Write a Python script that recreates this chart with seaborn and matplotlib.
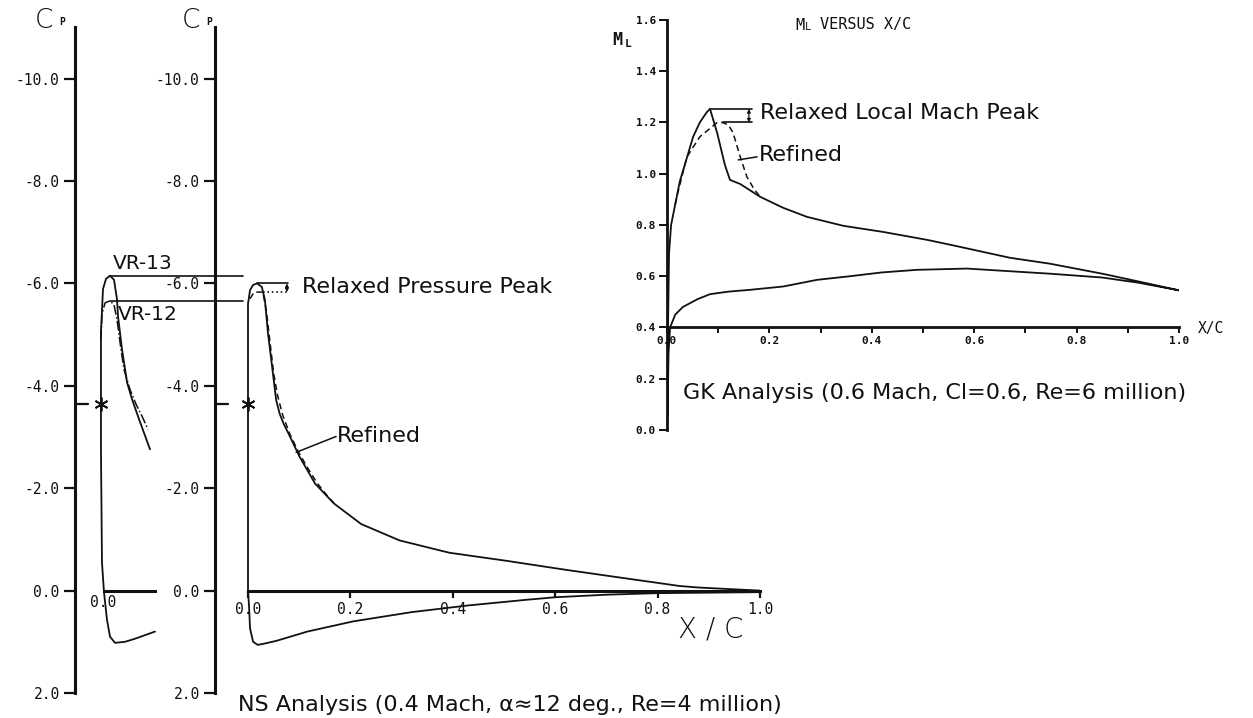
import numpy as np
import pandas as pd
import matplotlib
matplotlib.use("Agg")
import matplotlib.pyplot as plt
import seaborn as sns

sns.set_theme(style="ticks")
plt.rcParams["font.family"] = ["DejaVu Sans"]

W, H = 1253, 718

# ---------------- NS analysis: pressure distribution over the chord ----------------
ns_x = [1.0, 0.9, 0.8, 0.7, 0.6, 0.543, 0.43, 0.32, 0.206, 0.116, 0.056, 0.03, 0.019,
        0.010, 0.004, 0.002, 0.0, 0.0, 0.0, 0.004, 0.010, 0.018, 0.027, 0.033, 0.039,
        0.047, 0.055, 0.062, 0.070, 0.079, 0.101, 0.131, 0.168, 0.221, 0.296, 0.393,
        0.506, 0.618, 0.730, 0.843, 0.880, 0.94, 1.0]
ns_cp = [0.03, 0.04, 0.05, 0.08, 0.13, 0.18, 0.29, 0.42, 0.60, 0.80, 0.98, 1.04, 1.06,
         1.00, 0.74, 0.30, 0.0, -3.0, -5.6, -5.87, -5.97, -6.0, -5.93, -5.68, -5.03,
         -4.38, -3.72, -3.45, -3.25, -3.07, -2.61, -2.09, -1.70, -1.30, -0.98, -0.74,
         -0.58, -0.41, -0.25, -0.09, -0.06, -0.03, 0.0]

# refined leading-edge shape (dashed)
ns_ref_x = [0.004, 0.012, 0.029, 0.036, 0.043, 0.050, 0.058, 0.068, 0.082, 0.098,
            0.115, 0.135, 0.155, 0.172]
ns_ref_cp = [-5.70, -5.83, -5.83, -5.45, -4.85, -4.25, -3.80, -3.42, -3.05, -2.72,
             -2.42, -2.10, -1.85, -1.66]

# ---------------- leading-edge comparison VR-13 / VR-12 ----------------
vr13_x = [0.1016, 0.0625, 0.043, 0.0234, 0.0137, 0.0078, 0.002, -0.002, -0.004, -0.004,
          0.0, 0.0059, 0.0137, 0.0215, 0.0273, 0.0293, 0.037, 0.0469, 0.0566, 0.0703,
          0.0918]
vr13_cp = [0.80, 0.94, 1.0, 1.02, 0.90, 0.57, 0.04, -0.55, -2.76, -5.05, -5.89, -6.09,
           -6.15, -6.07, -5.69, -5.36, -4.72, -4.07, -3.74, -3.35, -2.76]
vr12_x = [-0.004, -0.002, 0.004, 0.0137, 0.0215, 0.0273, 0.035, 0.041, 0.0527, 0.0645,
          0.076, 0.088]
vr12_cp = [-4.9, -5.4, -5.62, -5.66, -5.58, -5.30, -4.72, -4.32, -3.93, -3.64, -3.41,
           -3.15]

vr13_peak = -6.15
vr12_peak = -5.66
ns_peak = -6.0
ns_ref_peak = -5.83
star_cp = -3.64

# ---------------- GK analysis: local Mach number ----------------
gk_x = [1.0, 0.92, 0.85, 0.748, 0.65, 0.586, 0.488, 0.42, 0.357, 0.293, 0.227, 0.162,
        0.12, 0.084, 0.059, 0.031, 0.016, 0.006, 0.003, 0.001,
        0.002, 0.004, 0.008, 0.016, 0.025, 0.037, 0.051, 0.064, 0.078, 0.084, 0.098,
        0.113, 0.123, 0.143, 0.182, 0.227, 0.273, 0.344, 0.422, 0.508, 0.553, 0.670,
        0.748, 0.85, 0.92, 1.0]
gk_m = [0.545, 0.575, 0.595, 0.61, 0.622, 0.63, 0.625, 0.615, 0.60, 0.586, 0.56, 0.547,
        0.54, 0.53, 0.51, 0.48, 0.45, 0.40, 0.30, 0.05,
        0.40, 0.69, 0.80, 0.88, 0.97, 1.05, 1.144, 1.20, 1.241, 1.253, 1.159,
        1.035, 0.976, 0.96, 0.91, 0.867, 0.832, 0.797, 0.773, 0.742, 0.723, 0.672,
        0.649, 0.61, 0.58, 0.545]
gk_ref_x = [0.016, 0.021, 0.039, 0.064, 0.098, 0.109, 0.120, 0.129, 0.143, 0.156, 0.170,
            0.182]
gk_ref_m = [0.88, 0.925, 1.066, 1.144, 1.2, 1.2, 1.19, 1.16, 1.066, 0.988, 0.94, 0.91]
gk_peak = 1.253
gk_ref_peak = 1.20

cp_ticks = [-10, -8, -6, -4, -2, 0, 2]
cp_tick_labels = ["-10.0", "-8.0", "-6.0", "-4.0", "-2.0", "0.0", "2.0"]
xc_ticks = [0.0, 0.2, 0.4, 0.6, 0.8, 1.0]
xc_tick_labels = ["0.0", "0.2", "0.4", "0.6", "0.8", "1.0"]
ml_ticks = [0.0, 0.2, 0.4, 0.6, 0.8, 1.0, 1.2, 1.4, 1.6]
ml_tick_labels = ["0.0", "0.2", "0.4", "0.6", "0.8", "1.0", "1.2", "1.4", "1.6"]
gk_minor_ticks = [0.1, 0.3, 0.5, 0.7, 0.9]

MONO = "DejaVu Sans Mono"
INK = "#111111"
NOTE = 16

fig = plt.figure(figsize=(W / 100, H / 100), dpi=100)
fig.patch.set_facecolor("white")


def axes_px(left, top, right, bottom):
    return fig.add_axes([left / W, 1 - bottom / H, (right - left) / W, (bottom - top) / H])


def fx(px):
    return px / W


def fy(py):
    return 1 - py / H


PXU = 512.0          # pixels per unit chord
CPU = 51.2           # pixels per unit Cp
cp_top = 693 - 13 * CPU

ax_le = axes_px(75, cp_top, 155, 693)
ax_ns = axes_px(215, cp_top, 760, 693)
ax_gk = axes_px(667, 20, 1179, 430)

for ax in (ax_le, ax_ns, ax_gk):
    ax.set_facecolor("none")
    ax.patch.set_alpha(0)
    for s in ("top", "right"):
        ax.spines[s].set_visible(False)
    ax.spines["left"].set_linewidth(2.2)
    ax.spines["bottom"].set_linewidth(2.2)
    ax.spines["left"].set_color(INK)
    ax.spines["bottom"].set_color(INK)

# --- Cp axes ---
ax_le.set_xlim((75 - 103) / PXU, (155 - 103) / PXU)
ax_ns.set_xlim(-33 / PXU, 1.0)
for ax in (ax_le, ax_ns):
    ax.set_ylim(2.0, -11.0)
    ax.spines["left"].set_bounds(2.0, -11.0)
    ax.spines["bottom"].set_position(("data", 0.0))
    ax.set_yticks(cp_ticks)
    ax.set_yticklabels(cp_tick_labels)
    ax.tick_params(axis="y", direction="out", length=8, width=1.6, pad=3, labelsize=10.5,
                   labelfontfamily=MONO, colors=INK)
    ax.tick_params(axis="x", direction="out", length=5, width=1.6, pad=3, labelsize=10.5,
                   labelfontfamily=MONO, colors=INK)

ax_le.spines["bottom"].set_bounds(0.002, (155 - 103) / PXU)
ax_le.set_xticks([0.0])
ax_le.set_xticklabels(["0.0"])
ax_le.tick_params(axis="x", length=0)

ax_ns.spines["bottom"].set_bounds(0.0, 1.0)
ax_ns.set_xticks(xc_ticks)
ax_ns.set_xticklabels(xc_tick_labels)

# --- GK axes ---
ax_gk.set_xlim(0.0, 1.0)
ax_gk.set_ylim(0.0, 1.6)
ax_gk.spines["left"].set_bounds(0.0, 1.6)
ax_gk.spines["bottom"].set_position(("data", 0.4))
ax_gk.spines["left"].set_linewidth(2.0)
ax_gk.spines["bottom"].set_linewidth(2.0)
ax_gk.set_yticks(ml_ticks)
ax_gk.set_yticklabels(ml_tick_labels)
ax_gk.set_xticks(xc_ticks)
ax_gk.set_xticklabels(xc_tick_labels)
ax_gk.set_xticks(gk_minor_ticks, minor=True)
ax_gk.tick_params(axis="y", direction="out", length=6, width=1.4, pad=2, labelsize=8,
                  labelfontfamily=MONO, colors=INK)
ax_gk.tick_params(axis="x", which="both", direction="out", length=4, width=1.4, pad=2,
                  labelsize=8, labelfontfamily=MONO, colors=INK)
for lbl in ax_gk.get_xticklabels() + ax_gk.get_yticklabels():
    lbl.set_fontweight("bold")

# --- curves ---
ns_df = pd.DataFrame({"x": ns_x, "cp": ns_cp})
ns_ref_df = pd.DataFrame({"x": ns_ref_x, "cp": ns_ref_cp})
vr13_df = pd.DataFrame({"x": vr13_x, "cp": vr13_cp})
vr12_df = pd.DataFrame({"x": vr12_x, "cp": vr12_cp})
gk_df = pd.DataFrame({"x": gk_x, "m": gk_m})
gk_ref_df = pd.DataFrame({"x": gk_ref_x, "m": gk_ref_m})

line_kw = dict(sort=False, estimator=None, color=INK)
sns.lineplot(data=vr13_df, x="x", y="cp", ax=ax_le, lw=1.3, clip_on=False, **line_kw)
sns.lineplot(data=vr12_df, x="x", y="cp", ax=ax_le, lw=1.1, linestyle="-.", clip_on=False,
             **line_kw)
sns.lineplot(data=ns_df, x="x", y="cp", ax=ax_ns, lw=1.3, **line_kw)
sns.lineplot(data=ns_ref_df, x="x", y="cp", ax=ax_ns, lw=1.1, linestyle=(0, (4, 2.5)),
             **line_kw)
sns.lineplot(data=gk_df, x="x", y="m", ax=ax_gk, lw=1.3, **line_kw)
sns.lineplot(data=gk_ref_df, x="x", y="m", ax=ax_gk, lw=1.1, linestyle=(0, (4, 2.5)),
             **line_kw)
for ax in (ax_le, ax_ns, ax_gk):
    ax.set_xlabel("")
    ax.set_ylabel("")

# stagnation markers with spine stubs
for ax, xs in ((ax_le, -0.004), (ax_ns, 0.0)):
    x0 = ax.get_xlim()[0]
    ax.plot([x0, x0 + 13 / PXU], [star_cp, star_cp], color=INK, lw=1.6, clip_on=False)
    ax.plot([xs], [star_cp], marker=(6, 2, 0), ms=10, mew=1.3, color=INK, clip_on=False)

# VR-13 / VR-12 peak levels
line_end = (243 - 103) / PXU
ax_le.plot([0.0137, line_end], [vr13_peak, vr13_peak], color=INK, lw=1.2, clip_on=False)
ax_le.plot([0.0137, line_end], [vr12_peak, vr12_peak], color=INK, lw=1.2, clip_on=False)
ax_le.text(0.0195, vr13_peak - 0.05, "VR-13", fontsize=14.5, color=INK, ha="left",
           va="bottom", clip_on=False)
ax_le.text(0.029, vr12_peak + 0.08, "VR-12", fontsize=14.5, color=INK, ha="left",
           va="top", clip_on=False)

# relaxed pressure peak bracket
ax_ns.plot([0.018, 0.078], [ns_peak, ns_peak], color=INK, lw=1.2)
ax_ns.plot([0.029, 0.078], [ns_ref_peak, ns_ref_peak], color=INK, lw=1.2, linestyle=":")
ax_ns.annotate("", xy=(0.076, ns_peak), xytext=(0.076, ns_ref_peak),
               arrowprops=dict(arrowstyle="<|-|>", color=INK, lw=0.9, mutation_scale=5,
                               shrinkA=0, shrinkB=0))
ax_ns.text(0.105, (ns_peak + ns_ref_peak) / 2 - 0.02, "Relaxed Pressure Peak", fontsize=NOTE,
           color=INK, ha="left", va="center")
ax_ns.plot([0.094, 0.172], [-2.70, -3.01], color=INK, lw=1.1)
ax_ns.text(0.174, -3.01, "Refined", fontsize=NOTE, color=INK, ha="left", va="center")

# relaxed local Mach peak bracket
ax_gk.plot([0.084, 0.166], [gk_peak, gk_peak], color=INK, lw=1.2)
ax_gk.plot([0.109, 0.166], [gk_ref_peak, gk_ref_peak], color=INK, lw=1.2)
ax_gk.annotate("", xy=(0.160, gk_peak), xytext=(0.160, gk_ref_peak),
               arrowprops=dict(arrowstyle="<|-|>", color=INK, lw=0.9, mutation_scale=5,
                               shrinkA=0, shrinkB=0))
ax_gk.text(0.182, 1.237, "Relaxed Local Mach Peak", fontsize=NOTE, color=INK, ha="left",
           va="center")
ax_gk.plot([0.139, 0.176], [1.054, 1.066], color=INK, lw=1.1)
ax_gk.text(0.180, 1.074, "Refined", fontsize=NOTE, color=INK, ha="left", va="center")

# axis captions
for cx in (35, 182):
    fig.text(fx(cx), fy(21), "C", fontsize=19, fontweight="light", color=INK,
             ha="left", va="center")
    fig.text(fx(cx + 24), fy(22), "P", fontsize=7, fontfamily=MONO, fontweight="bold",
             color=INK, ha="left", va="center")
fig.text(fx(711), fy(630), "X / C", fontsize=20, fontweight="light", color=INK,
         ha="center", va="center")
fig.text(fx(1198), fy(328), "X/C", fontsize=10.5, fontfamily=MONO, color=INK,
         ha="left", va="center")
fig.text(fx(612), fy(40), "M", fontsize=12, fontfamily=MONO, fontweight="bold",
         color=INK, ha="left", va="center")
fig.text(fx(625), fy(44), "L", fontsize=8, fontfamily=MONO, fontweight="bold",
         color=INK, ha="left", va="center")
fig.text(fx(795), fy(25), "M", fontsize=11, fontfamily=MONO, color=INK,
         ha="left", va="center")
fig.text(fx(805), fy(27), "L", fontsize=7.5, fontfamily=MONO, color=INK,
         ha="left", va="center")
fig.text(fx(820), fy(25), "VERSUS X/C", fontsize=11, fontfamily=MONO, color=INK,
         ha="left", va="center")

fig.text(fx(238), fy(705), "NS Analysis (0.4 Mach, \u03b1\u224812 deg., Re=4 million)",
         fontsize=NOTE, color=INK, ha="left", va="center")
fig.text(fx(683), fy(393), "GK Analysis (0.6 Mach, Cl=0.6, Re=6 million)",
         fontsize=NOTE, color=INK, ha="left", va="center")

fig.savefig("out.png", dpi=100, facecolor="white")
